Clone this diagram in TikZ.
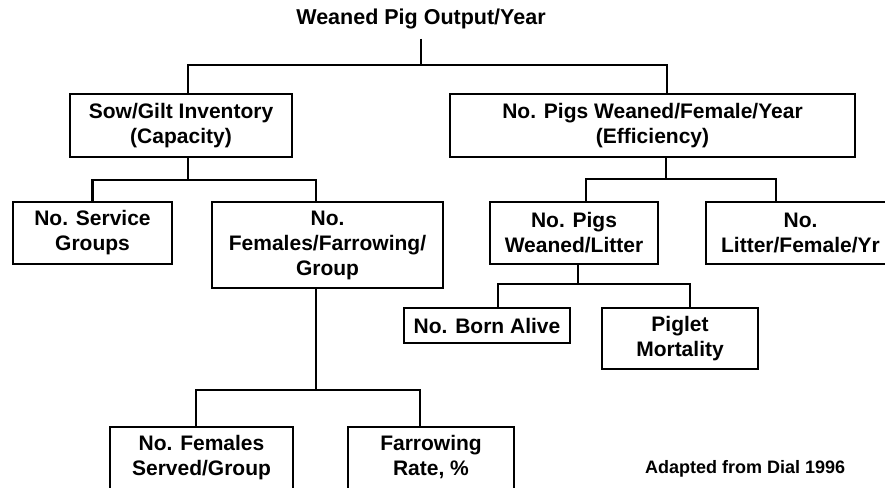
\documentclass[tikz,border=0pt]{standalone}
\usepackage{fontspec}
\setmainfont{Liberation Sans}
\begin{document}
\begin{tikzpicture}[x=1pt,y=-1pt,
  box/.style={draw=black,line width=2.4pt,rectangle,align=center,inner sep=0pt,
    font=\fontsize{21}{25}\selectfont\bfseries},
  conn/.style={draw=black,line width=2.4pt},
  ttl/.style={font=\fontsize{21.5}{25}\selectfont\bfseries,inner sep=0pt},
  note/.style={font=\fontsize{18}{21}\selectfont\bfseries,inner sep=0pt}]
\path[use as bounding box,clip] (0,0) rectangle (885,487);
\fill[white] (0,0) rectangle (885,487);

\node[ttl,anchor=base] (title) at (421,25) {Weaned Pig Output/Year};

\node[box,minimum width=222,minimum height=63] (sow) at (181,125.5) {Sow/Gilt Inventory\\(Capacity)};
\node[box,minimum width=405,minimum height=63] (eff) at (652.5,125.5) {No. Pigs Weaned/Female/Year\\(Efficiency)};

\node[box,minimum width=159,minimum height=62] (svc) at (92.5,233) {No. Service\\Groups};
\node[box,minimum width=231,minimum height=86] (fem) at (327.5,245) {No.\\Females/Farrowing/\\Group};
\node[box,minimum width=168,minimum height=62] (pwl) at (574,233) {No. Pigs\\Weaned/Litter};
\node[box,minimum width=189,minimum height=62] (lit) at (800.5,233) {No.\\Litter/Female/Yr};

\node[box,minimum width=166,minimum height=35] (born) at (487,325.5) {No. Born Alive};
\node[box,minimum width=156,minimum height=61] (mort) at (680,338.5) {Piglet\\Mortality};

\node[box,minimum width=183,minimum height=80,text depth=24pt] (served) at (201.5,467) {No. Females\\Served/Group};
\node[box,minimum width=166,minimum height=80,text depth=24pt] (farrow) at (431,467) {Farrowing\\Rate, \%};

\node[note,anchor=base west] (src) at (645,473) {Adapted from Dial 1996};

% connectors
\coordinate (t0) at ([yshift=-9pt]title.south);
\draw[conn] (t0) -- ++(0,26) -| ([xshift=7pt]sow.north);
\draw[conn] (t0) -- ++(0,26) -| ([xshift=14.5pt]eff.north);

\draw[conn] ([xshift=7pt]sow.south) -- ++(0,22) -| (svc.north);
\draw[conn] ([xshift=7pt]sow.south) -- ++(0,22) -| ([xshift=-11.5pt]fem.north);

\draw[conn] ([xshift=13.5pt]eff.south) -- ++(0,21) -| ([xshift=12pt]pwl.north);
\draw[conn] ([xshift=13.5pt]eff.south) -- ++(0,21) -| ([xshift=-24.5pt]lit.north);

\draw[conn] ([xshift=4pt]pwl.south) -- ++(0,19) -| ([xshift=11pt]born.north);
\draw[conn] ([xshift=4pt]pwl.south) -- ++(0,19) -| ([xshift=10pt]mort.north);

\draw[conn] ([xshift=-11.5pt]fem.south) -- ++(0,101) -| ([xshift=-5.5pt]served.north);
\draw[conn] ([xshift=-11.5pt]fem.south) -- ++(0,101) -| ([xshift=-11pt]farrow.north);
\end{tikzpicture}
\end{document}
